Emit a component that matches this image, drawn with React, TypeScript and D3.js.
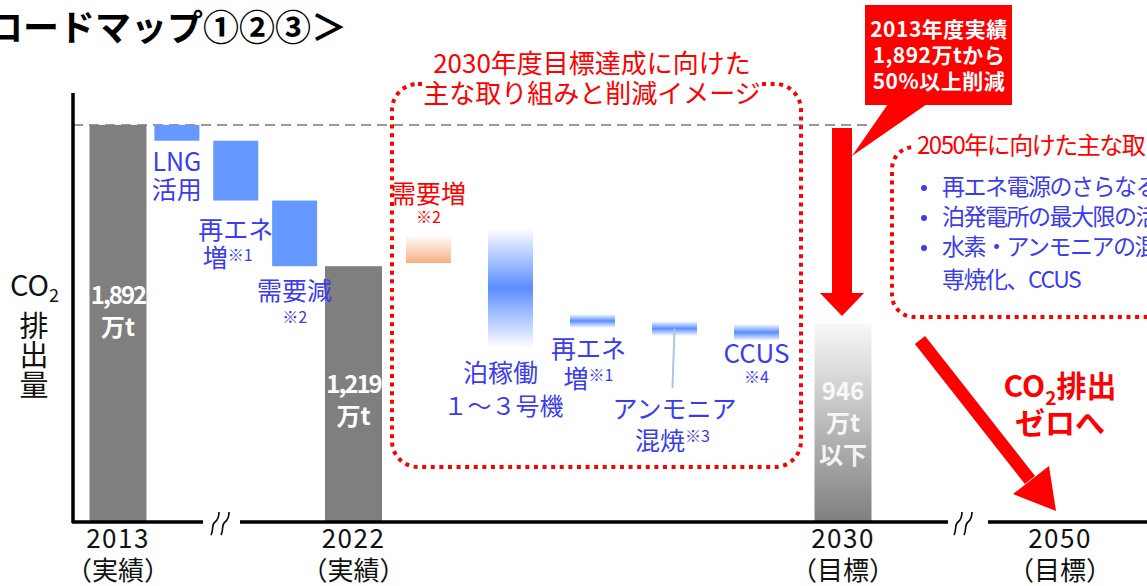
import React from "react";
import * as d3 from "d3";

// steps along the x axis
const steps = ["2013", "LNG", "再エネ", "需要減", "2022", "需要増", "泊稼働", "再エネ増", "アンモニア", "CCUS", "2030", "2050"];

// CO2 (万t)
const totals = [
  { key: "2013", value: 1892, label: "1,892" },
  { key: "2022", value: 1219, label: "1,219" },
  { key: "2030", value: 946, label: "946" },
];
const reductions = [
  { key: "LNG", value: 75 },
  { key: "再エネ", value: 285 },
  { key: "需要減", value: 313 },
];
// 2022 -> 2030 image ranges (lo, hi)
const ranges = [
  { key: "需要増", lo: 1234, hi: 1368, kind: "up" },
  { key: "泊稼働", lo: 829, hi: 1401, kind: "down" },
  { key: "再エネ増", lo: 925, hi: 991, kind: "down" },
  { key: "アンモニア", lo: 886, hi: 958, kind: "down" },
  { key: "CCUS", lo: 863, hi: 944, kind: "down" },
];
const xTicks = [
  { key: "2013", sub: "（実績）" },
  { key: "2022", sub: "（実績）" },
  { key: "2030", sub: "（目標）" },
  { key: "2050", sub: "（目標）" },
];
const bullets = ["再エネ電源のさらなる拡大", "泊発電所の最大限の活用", "水素・アンモニアの混焼・", "専焼化、CCUS"];

const W = 1147;
const H = 586;
const BLUE_TXT = "#3b3bf2";
const RED = "#ff0000";
const FONT = "'Noto Sans CJK JP', 'Noto Sans', sans-serif";

const y = d3.scaleLinear().domain([0, 1892]).range([522, 125]);
const slot = d3.scaleLinear().domain([0, 4, 5, 9, 10, 11]).range([118, 353.5, 428.5, 756.5, 843, 1060]);
const x = (k: string) => slot(steps.indexOf(k));

export default function App() {
  let run = 1892;
  const wf = reductions.map((d) => {
    const top = run;
    run -= d.value;
    return { ...d, top, bottom: run };
  });

  const breakMark = (cx: number) => (
    <g stroke="#000" strokeWidth={1.6} fill="none">
      <path d={`M${cx - 8},535 C${cx - 5},530 ${cx - 8},525 ${cx - 4},522 S${cx},515 ${cx},512`} />
      <path d={`M${cx + 2},535 C${cx + 5},530 ${cx + 2},525 ${cx + 6},522 S${cx + 10},515 ${cx + 10},512`} />
    </g>
  );

  // label lines inside the total bars
  const barText: Record<string, { lines: string[]; y0: number }> = {
    "2013": { lines: ["1,892", "万t"], y0: 304 },
    "2022": { lines: ["1,219", "万t"], y0: 393 },
    "2030": { lines: ["946", "万t", "以下"], y0: 400 },
  };

  return (
    <svg width={W} height={H} style={{ position: "fixed", left: 0, top: 0, background: "#fff" }} fontFamily={FONT}>
      <defs>
        <linearGradient id="gOrange" x1="0" y1="0" x2="0" y2="1">
          <stop offset="0" stopColor="#fff" />
          <stop offset="1" stopColor="#f4b183" />
        </linearGradient>
        <linearGradient id="gBlue" x1="0" y1="0" x2="0" y2="1">
          <stop offset="0" stopColor="#fff" />
          <stop offset="0.5" stopColor="#5b8eff" />
          <stop offset="1" stopColor="#fff" />
        </linearGradient>
        <linearGradient id="gGrey" x1="0" y1="0" x2="0" y2="1">
          <stop offset="0" stopColor="#f8f8f8" />
          <stop offset="1" stopColor="#7f7f7f" />
        </linearGradient>
      </defs>

      <text x={-13} y={41} fontSize={36} fontWeight="bold">ロードマップ①②③＞</text>

      {/* dashed 2013 level */}
      <line x1={73} x2={870} y1={y(1892)} y2={y(1892)} stroke="#999" strokeWidth={2} strokeDasharray="10 6" />

      {/* total bars */}
      {totals.map((d) => (
        <g key={d.key}>
          <rect x={x(d.key) - 28.5} width={57} y={y(d.value)} height={y(0) - y(d.value)}
            fill={d.key === "2030" ? "url(#gGrey)" : "#7f7f7f"} />
          {barText[d.key].lines.map((l, i) => (
            <text key={l} x={x(d.key)} y={barText[d.key].y0 + i * 32} textAnchor="middle" fill="#fff"
              fillOpacity={d.key === "2030" ? 0.9 : 1} fontWeight="bold" fontSize={24}
              letterSpacing={i === 0 && d.key !== "2030" ? -2 : 0}>
              {l}
            </text>
          ))}
        </g>
      ))}

      {/* 2013->2022 reductions */}
      {wf.map((d) => (
        <rect key={d.key} x={x(d.key) - 22.5} width={45} y={y(d.top)} height={y(d.bottom) - y(d.top)} fill="#6699ff" />
      ))}
      <g fill={BLUE_TXT} fontSize={25} textAnchor="middle">
        <text x={x("LNG")} y={171}>LNG</text>
        <text x={x("LNG")} y={199}>活用</text>
        <text x={x("再エネ")} y={239}>再エネ</text>
        <text x={x("再エネ") - 8} y={267}>増<tspan fontSize={16} dy={-6}>※1</tspan></text>
        <text x={x("需要減")} y={300}>需要減</text>
        <text x={x("需要減")} y={323} fontSize={16}>※2</text>
      </g>

      {/* 2022->2030 ranges */}
      {ranges.map((d) => (
        <rect key={d.key} x={x(d.key) - 22.5} width={45} y={y(d.hi)} height={y(d.lo) - y(d.hi)}
          fill={d.kind === "up" ? "url(#gOrange)" : "url(#gBlue)"} />
      ))}
      <line x1={x("アンモニア")} y1={y(922)} x2={x("アンモニア") - 2} y2={388} stroke="#b4c4dc" strokeWidth={2} />
      <g fill={BLUE_TXT} fontSize={25} textAnchor="middle">
        <text x={x("需要増")} y={203} fill={RED}>需要増</text>
        <text x={x("需要増")} y={223} fontSize={16} fill={RED}>※2</text>
        <text x={x("泊稼働") - 10} y={382}>泊稼働</text>
        <text x={x("泊稼働") - 7} y={415} fontSize={24}>１～３号機</text>
        <text x={x("再エネ増") - 4} y={358}>再エネ</text>
        <text x={x("再エネ増") - 4} y={388}>増<tspan fontSize={16} dy={-7}>※1</tspan></text>
        <text x={x("アンモニア")} y={418}>アンモニア</text>
        <text x={x("アンモニア") - 2} y={450}>混焼<tspan fontSize={16} dy={-8}>※3</tspan></text>
        <text x={x("CCUS")} y={363} fontSize={26}>CCUS</text>
        <text x={x("CCUS")} y={383} fontSize={16}>※4</text>
      </g>

      {/* box 2030 */}
      <rect x={392} y={84} width={409} height={383} rx={26} fill="none" stroke={RED} strokeWidth={4} strokeDasharray="4 4.6" />
      <rect x={424} y={78} width={338} height={30} fill="#fff" />
      <g fill={RED} fontSize={26} textAnchor="middle">
        <text x={592} y={73}>2030年度目標達成に向けた</text>
        <text x={592} y={103}>主な取り組みと削減イメージ</text>
      </g>

      {/* box 2050 */}
      <rect x={892} y={147} width={300} height={170} rx={22} fill="none" stroke={RED} strokeWidth={4} strokeDasharray="4 4.6" />
      <rect x={913} y={132} width={240} height={28} fill="#fff" />
      <text x={917} y={154} fill={RED} fontSize={24} letterSpacing={-1.5}>2050年に向けた主な取り組み</text>
      <g fill={BLUE_TXT} fontSize={23} letterSpacing={-1.5}>
        {bullets.map((b, i) => (
          <text key={b} x={942} y={195 + i * 30 + (i === 3 ? 3 : 0)}>{b}</text>
        ))}
        {[0, 1, 2].map((i) => (
          <circle key={i} cx={924} cy={188 + i * 30} r={3} fill={BLUE_TXT} />
        ))}
      </g>

      {/* callout */}
      <rect x={865} y={5} width={147} height={100} fill={RED} />
      <polygon points="888,104 927,104 852,156" fill={RED} />
      <g fill="#fff" fontWeight="bold" fontSize={21} textAnchor="middle" letterSpacing={0.5}>
        <text x={939} y={37}>2013年度実績</text>
        <text x={939} y={63}>1,892万tから</text>
        <text x={939} y={89}>50%以上削減</text>
      </g>

      {/* down arrow */}
      <rect x={832} y={128} width={20} height={166} fill={RED} />
      <polygon points="820,293 864,293 842,316" fill={RED} />

      {/* diagonal arrow to 2050 */}
      <line x1={920} y1={340} x2={1030} y2={480} stroke={RED} strokeWidth={13} />
      <polygon points="1013,494 1049,466 1056,511" fill={RED} />
      <g fill={RED} fontWeight="bold" fontSize={30} textAnchor="middle">
        <text x={1060} y={397}>CO<tspan fontSize={19} dy={8}>2</tspan><tspan dy={-8}>排出</tspan></text>
        <text x={1060} y={434}>ゼロへ</text>
      </g>

      {/* axes */}
      <line x1={73} x2={73} y1={93} y2={523} stroke="#000" strokeWidth={3.5} />
      <g stroke="#000" strokeWidth={3.5}>
        <line x1={72} x2={203} y1={522} y2={522} />
        <line x1={240} x2={948} y1={522} y2={522} />
        <line x1={988} x2={W} y1={522} y2={522} />
      </g>
      {breakMark(219)}
      {breakMark(962)}

      {/* axis labels */}
      <g fontSize={26} textAnchor="middle" fill="#111">
        {xTicks.map((t) => (
          <g key={t.key}>
            <text x={x(t.key)} y={548} letterSpacing={1.5}>{t.key}</text>
            <text x={x(t.key)} y={580}>{t.sub}</text>
          </g>
        ))}
      </g>
      <g fontSize={29} fill="#111">
        <text x={10} y={296}>CO<tspan fontSize={18} dy={6}>2</tspan></text>
        <text x={34} y={337} textAnchor="middle">排</text>
        <text x={34} y={366} textAnchor="middle">出</text>
        <text x={34} y={396} textAnchor="middle">量</text>
      </g>
    </svg>
  );
}
